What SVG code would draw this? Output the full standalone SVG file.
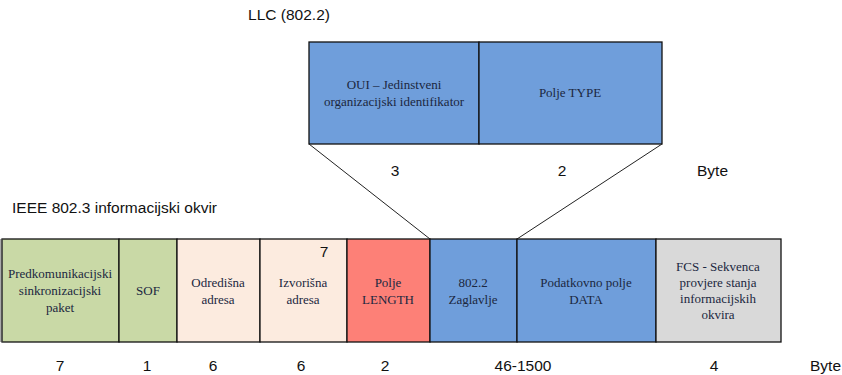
<svg xmlns="http://www.w3.org/2000/svg" width="842" height="375" viewBox="0 0 842 375">
<style>
.box{stroke:#111;stroke-width:1.3}
.t{font-family:"Liberation Serif","Times New Roman",serif;font-size:13px;fill:#1b2740;text-anchor:middle}
.s{font-family:"Liberation Sans",Arial,sans-serif;font-size:15.5px;fill:#111;text-anchor:middle}
.g{fill:#c9d9a6}.p{fill:#fcebdf}.r{fill:#fd8077}.b{fill:#6f9edb}.gr{fill:#d9d9d9}
</style>
<rect width="842" height="375" fill="#fff"/>
<text class="s" x="289" y="20">LLC (802.2)</text>
<text class="s" x="12" y="213" style="text-anchor:start">IEEE 802.3 informacijski okvir</text>
<g id="llc-oui"><rect class="box b" x="309" y="42" width="170" height="102"/>
<text class="t" x="394" y="89">OUI – Jedinstveni</text><text class="t" x="394" y="106">organizacijski identifikator</text></g>
<g id="llc-type"><rect class="box b" x="479" y="42" width="183" height="102"/>
<text class="t" x="570" y="97">Polje TYPE</text></g>
<g id="connectors" stroke="#222" stroke-width="1" fill="none">
<line x1="309" y1="144" x2="430" y2="239"/>
<line x1="662" y1="144" x2="517" y2="239"/>
</g>
<text class="s" x="395" y="176">3</text>
<text class="s" x="562" y="176">2</text>
<text class="s" x="697" y="176" style="text-anchor:start">Byte</text>
<g id="preamble"><rect class="box g" x="2" y="239" width="117" height="103"/>
<text class="t" x="60" y="278">Predkomunikacijski</text><text class="t" x="60" y="295">sinkronizacijski</text><text class="t" x="60" y="312">paket</text></g>
<g id="sof"><rect class="box g" x="119" y="239" width="58" height="103"/>
<text class="t" x="148" y="295">SOF</text></g>
<g id="dst"><rect class="box p" x="177" y="239" width="83" height="103"/>
<text class="t" x="218" y="287">Odredišna</text><text class="t" x="218" y="304">adresa</text></g>
<g id="src"><rect class="box p" x="260" y="239" width="87" height="103"/>
<text class="t" x="303" y="287">Izvorišna</text><text class="t" x="303" y="304">adresa</text>
<text class="s" x="324" y="257">7</text></g>
<g id="length"><rect class="box r" x="347" y="239" width="83" height="103"/>
<text class="t" x="388" y="287">Polje</text><text class="t" x="388" y="304">LENGTH</text></g>
<g id="hdr"><rect class="box b" x="430" y="239" width="87" height="103"/>
<text class="t" x="473" y="287">802.2</text><text class="t" x="473" y="304">Zaglavlje</text></g>
<g id="data"><rect class="box b" x="517" y="239" width="139" height="103"/>
<text class="t" x="586" y="287">Podatkovno polje</text><text class="t" x="586" y="304">DATA</text></g>
<g id="fcs"><rect class="box gr" x="656" y="239" width="125" height="103"/>
<text class="t" x="718" y="271">FCS - Sekvenca</text><text class="t" x="718" y="287">provjere stanja</text><text class="t" x="718" y="303">informacijskih</text><text class="t" x="718" y="319">okvira</text></g>
<line x1="1.5" y1="239" x2="1.5" y2="342" stroke="#555" stroke-width="2"/>
<g>
<text class="s" x="60" y="371">7</text>
<text class="s" x="147" y="371">1</text>
<text class="s" x="213" y="371">6</text>
<text class="s" x="301" y="371">6</text>
<text class="s" x="385" y="371">2</text>
<text class="s" x="523" y="371">46-1500</text>
<text class="s" x="714" y="371">4</text>
<text class="s" x="810" y="371" style="text-anchor:start">Byte</text>
</g>
</svg>
